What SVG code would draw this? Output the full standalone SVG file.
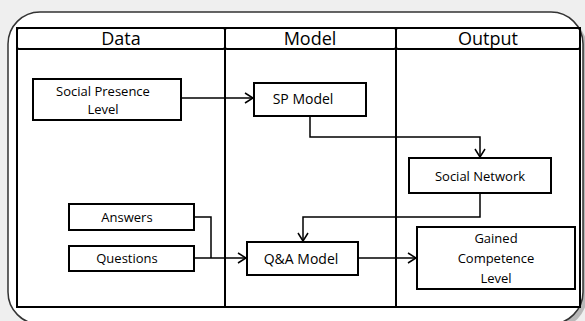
<svg xmlns="http://www.w3.org/2000/svg" width="585" height="321" viewBox="0 0 585 321">
<defs>
<style>
text{font-family:"Open Sans","Liberation Sans",sans-serif;fill:#000;text-anchor:middle}
.hd{font-size:18px}
.lb{font-size:13px}
.md{font-size:14px}
.box{fill:#fff;stroke:#000;stroke-width:2}
.ln{fill:none;stroke:#000;stroke-width:1.5}
</style>
<marker id="ah" markerWidth="12" markerHeight="12" refX="9" refY="6" orient="auto" markerUnits="userSpaceOnUse">
<path d="M1,1 L9,6 L1,11" fill="none" stroke="#000" stroke-width="1.5"/>
</marker>
</defs>
<rect width="585" height="321" fill="#efefef"/>
<rect x="12" y="16" width="575" height="312" rx="32" fill="#b8b8b8"/>
<rect x="8" y="12" width="575" height="312" rx="32" fill="#fff" stroke="#333" stroke-width="1.5"/>
<g id="lanes">
<rect x="17" y="28" width="563" height="279" fill="none" stroke="#000" stroke-width="2"/>
<rect x="17" y="28" width="208" height="21" rx="2" fill="none" stroke="#000" stroke-width="2"/>
<rect x="225" y="28" width="171" height="21" rx="2" fill="none" stroke="#000" stroke-width="2"/>
<rect x="396" y="28" width="184" height="21" rx="2" fill="none" stroke="#000" stroke-width="2"/>
<line x1="225" y1="28" x2="225" y2="307" stroke="#000" stroke-width="2"/>
<line x1="396" y1="28" x2="396" y2="307" stroke="#000" stroke-width="2"/>
<text class="hd" x="121" y="45">Data</text>
<text class="hd" x="310" y="45">Model</text>
<text class="hd" x="488" y="45">Output</text>
</g>
<g id="connectors">
<path class="ln" d="M181,98 H253" marker-end="url(#ah)"/>
<path class="ln" d="M310,116 V137 H480 V157" marker-end="url(#ah)"/>
<path class="ln" d="M480,193 V217 H303 V241" marker-end="url(#ah)"/>
<path class="ln" d="M194,217 H211 V258"/>
<path class="ln" d="M194,258 H246" marker-end="url(#ah)"/>
<path class="ln" d="M358,258 H416" marker-end="url(#ah)"/>
</g>
<g id="social-presence">
<rect class="box" x="33" y="79" width="148" height="41"/>
<text class="lb" x="103" y="96">Social Presence</text>
<text class="lb" x="103" y="114">Level</text>
</g>
<g id="sp-model">
<rect class="box" x="254" y="83" width="112" height="33"/>
<text class="md" x="303" y="104">SP Model</text>
</g>
<g id="social-network">
<rect class="box" x="409" y="158" width="142" height="35"/>
<text class="lb" x="480" y="181">Social Network</text>
</g>
<g id="answers">
<rect class="box" x="69" y="204" width="125" height="26"/>
<text class="lb" x="127" y="222">Answers</text>
</g>
<g id="questions">
<rect class="box" x="69" y="246" width="125" height="25"/>
<text class="lb" x="127" y="263">Questions</text>
</g>
<g id="qa-model">
<rect class="box" x="247" y="242" width="111" height="33"/>
<text class="md" x="301" y="264">Q&amp;A Model</text>
</g>
<g id="gained">
<rect class="box" x="417" y="227" width="158" height="62"/>
<text class="lb" x="496" y="243">Gained</text>
<text class="lb" x="496" y="263">Competence</text>
<text class="lb" x="496" y="283">Level</text>
</g>
</svg>
